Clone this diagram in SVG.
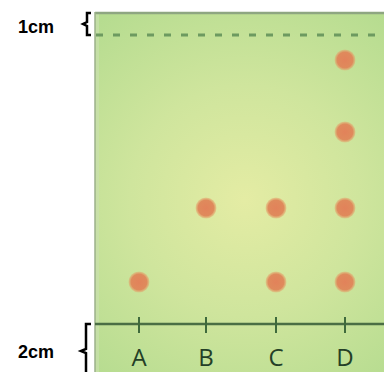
<svg xmlns="http://www.w3.org/2000/svg" width="384" height="372" viewBox="0 0 384 372">
<defs>
<radialGradient id="bg" cx="245" cy="200" r="230" gradientUnits="userSpaceOnUse">
<stop offset="0" stop-color="#e4eca4"/>
<stop offset="0.5" stop-color="#cfe59d"/>
<stop offset="1" stop-color="#b6dc90"/>
</radialGradient>
<radialGradient id="spot">
<stop offset="0" stop-color="#e2825a"/>
<stop offset="0.75" stop-color="#df8a5c"/>
<stop offset="1" stop-color="#e5a26a" stop-opacity="0.4"/>
</radialGradient>
<style>
.lab{font-family:"Liberation Sans",Arial,sans-serif;font-weight:bold;font-size:18px;fill:#000}
.lane{font-family:"Open Sans","Liberation Sans",sans-serif;font-size:24px;fill:#243f27;text-anchor:middle}
.tick{stroke:#3f6a3c;stroke-width:2}
.brace{fill:none;stroke:#000;stroke-width:2.5}
</style>
</defs>
<rect x="95" y="12" width="289" height="360" fill="url(#bg)"/>
<rect x="95" y="12" width="4" height="360" fill="#c9dfae" opacity="0.7"/>
<line x1="95" y1="13" x2="384" y2="13" stroke="#8ea681" stroke-width="2.5"/>
<line x1="95" y1="12" x2="95" y2="372" stroke="#9bb08a" stroke-width="1.5"/>
<line x1="96" y1="35" x2="384" y2="35" stroke="#6d9a60" stroke-width="3" stroke-dasharray="7,10"/>
<g id="connectors">
<line x1="95" y1="324" x2="384" y2="324" stroke="#4a6e44" stroke-width="2.5"/>
<line class="tick" x1="139" y1="317" x2="139" y2="333"/>
<line class="tick" x1="206" y1="317" x2="206" y2="333"/>
<line class="tick" x1="276" y1="317" x2="276" y2="333"/>
<line class="tick" x1="345" y1="317" x2="345" y2="333"/>
</g>
<g id="spots">
<circle cx="139" cy="282" r="10.5" fill="url(#spot)"/>
<circle cx="206" cy="208" r="10.5" fill="url(#spot)"/>
<circle cx="276" cy="208" r="10.5" fill="url(#spot)"/>
<circle cx="276" cy="282" r="10.5" fill="url(#spot)"/>
<circle cx="345" cy="60" r="10.5" fill="url(#spot)"/>
<circle cx="345" cy="132" r="10.5" fill="url(#spot)"/>
<circle cx="345" cy="208" r="10.5" fill="url(#spot)"/>
<circle cx="345" cy="282" r="10.5" fill="url(#spot)"/>
</g>
<g id="lanes">
<text class="lane" x="139" y="366">A</text>
<text class="lane" x="206" y="366">B</text>
<text class="lane" x="276" y="366">C</text>
<text class="lane" x="345" y="366">D</text>
</g>
<g id="label-1cm">
<text class="lab" x="18" y="33">1cm</text>
<path class="brace" d="M91,13 L87,13 L87,22 L83,24 L87,26 L87,35 L91,35"/>
</g>
<g id="label-2cm">
<text class="lab" x="18" y="358">2cm</text>
<path class="brace" d="M91,324 L86,324 L86,349 L81,351 L86,353 L86,372"/>
</g>
</svg>
